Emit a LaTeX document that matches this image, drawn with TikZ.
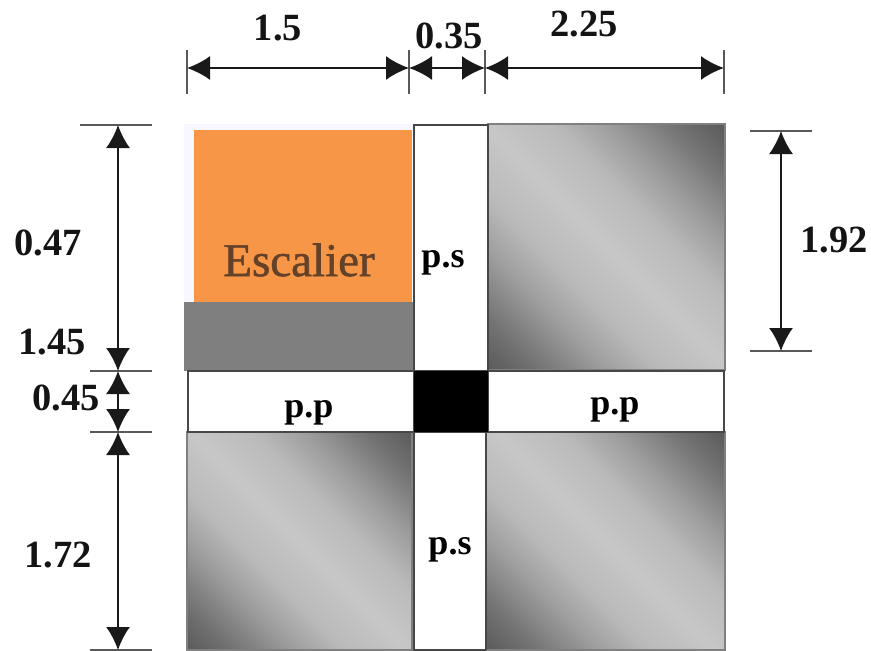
\documentclass[tikz,border=0pt]{standalone}
\usepackage{fontspec}
\setmainfont{Liberation Serif}
\newfontfamily\escfont[FakeBold=1.2]{Liberation Serif}
\usetikzlibrary{arrows.meta}
\pgfdeclareverticalshading{panelshade}{100bp}{color(0bp)=(black!72); color(12bp)=(black!68); color(22bp)=(black!55); color(32bp)=(black!38); color(40bp)=(black!27); color(50bp)=(black!22); color(60bp)=(black!27); color(68bp)=(black!38); color(78bp)=(black!55); color(88bp)=(black!68); color(100bp)=(black!72)}
\tikzset{
  panel/.style={shading=panelshade, shading angle=-45},
  paneledge/.style={draw=black!50, line width=1.4pt},
  strip/.style={draw=black!72, line width=1.6pt},
  dim/.style={draw=black!90, line width=2pt, {Latex[length=23pt,width=24pt]}-{Latex[length=23pt,width=24pt]}},
  dimtick/.style={draw=black!65, line width=1.6pt},
  lab/.style={font=\bfseries\fontsize{38.5}{40}\selectfont, text=black!92, inner sep=0pt},
  striplab/.style={font=\bfseries\fontsize{36}{38}\selectfont, text=black, inner sep=0pt},
}
\begin{document}
\begin{tikzpicture}[x=1pt,y=-1pt]
\useasboundingbox (0,0) rectangle (871,651);
% pale band behind the stair
\fill[blue!3] (184,124) rectangle (414,302);
% panels
\shade[panel] (488,124) rectangle (725,370);
\shade[panel] (187,432) rectangle (412,650);
\shade[panel] (486,432) rectangle (725,650);
\draw[paneledge] (488,124) rectangle (725,370);
\draw[paneledge] (187,432) rectangle (412,650);
\draw[paneledge] (486,432) rectangle (725,650);
% stair
\fill[fill={rgb,255:red,247;green,150;blue,70}] (194,130) rectangle (412,302);
\fill[fill={rgb,255:red,127;green,127;blue,127}] (184,302) rectangle (414,371);
% strips
\fill[white] (414,125) rectangle (488,371);
\fill[white] (188,371) rectangle (414,432);
\fill[white] (488,371) rectangle (724,432);
\fill[white] (414,432) rectangle (486,650);
\draw[strip] (414,125) rectangle (488,371);
\draw[strip] (188,371) rectangle (414,432);
\draw[strip] (488,371) rectangle (724,432);
\draw[strip] (414,432) rectangle (486,650);
\fill[black] (414,371) rectangle (488,432);
\node[striplab] (ps1) at (443,263) {p.s};
\node[striplab] (ps2) at (450,550) {p.s};
\node[striplab] (pp1) at (309,413) {p.p};
\node[striplab] (pp2) at (615,410) {p.p};
\node[font=\escfont\fontsize{47}{49}\selectfont, text={rgb,255:red,100;green,66;blue,42}, inner sep=0pt] (esc) at (299,260) {Escalier};
% top dimensions
\coordinate (ta) at (187,68); \coordinate (tb) at (409,68); \coordinate (tc) at (485,68); \coordinate (td) at (724,68);
\draw[dimtick] (187,50) -- (187,94);
\draw[dimtick] (409,50) -- (409,94);
\draw[dimtick] (485,50) -- (485,94);
\draw[dimtick] (724,50) -- (724,94);
\draw[dim] (ta) -- (tb);
\draw[dim] (tb) -- (tc);
\draw[dim] (tc) -- (td);
% left dimensions
\coordinate (la) at (118,125); \coordinate (lb) at (118,371); \coordinate (lc) at (118,432); \coordinate (ld) at (118,650);
\draw[dimtick] (80,125) -- (152,125);
\draw[dimtick] (90,371) -- (152,371);
\draw[dimtick] (90,432) -- (152,432);
\draw[dimtick] (90,650) -- (152,650);
\draw[dim] (la) -- (lb);
\draw[dim] (lb) -- (lc);
\draw[dim] (lc) -- (ld);
% right dimension
\coordinate (ra) at (781,131); \coordinate (rb) at (781,351);
\draw[dimtick] (750,131) -- (812,131);
\draw[dimtick] (750,351) -- (812,351);
\draw[dim] (ra) -- (rb);
% labels
\node[lab] (l15) at (278,28) {1.5};
\node[lab] (l035) at (449,36) {0.35};
\node[lab] (l225) at (584,24) {2.25};
\node[lab] (l047) at (48,243) {0.47};
\node[lab] (l145) at (52,342) {1.45};
\node[lab] (l045) at (66,398) {0.45};
\node[lab] (l172) at (58,555) {1.72};
\node[lab] (l192) at (834,240) {1.92};
\end{tikzpicture}
\end{document}
